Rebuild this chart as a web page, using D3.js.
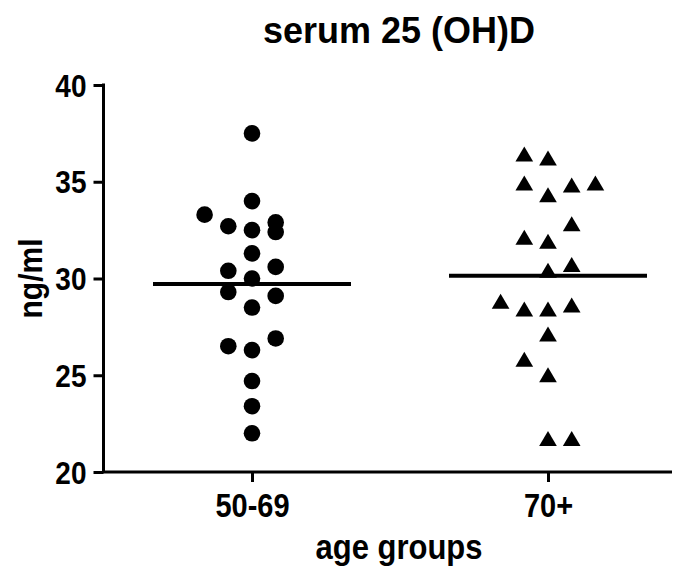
<!DOCTYPE html>
<html>
<head>
<meta charset="utf-8">
<script src="https://cdn.jsdelivr.net/npm/d3@7"></script>
<style>
  html, body { margin: 0; padding: 0; background: #fff; }
  svg text { font-family: "Liberation Sans", Arial, sans-serif; font-weight: bold; fill: #000; }
</style>
</head>
<body>
<svg id="chart" width="687" height="570"></svg>
<script>
// age groups on the x axis
const groups = ["50-69", "70+"];

// serum 25(OH)D values (ng/ml)
const young = [37.5, 34.0, 33.3, 32.7, 32.5, 32.9, 32.4, 31.3, 30.4, 30.6,
               30.0, 29.3, 29.1, 28.5, 26.9, 26.5, 26.3, 24.7, 23.4, 22.0];
// column each point sits in (scatter spread), -2..2
const youngLane = [0, 0, -2, -1, 0, 1, 1, 0, -1, 1,
                   0, -1, 1, 0, 1, -1, 0, 0, 0, 0];

const old = [36.3, 36.1, 34.8, 34.7, 34.8, 34.2, 32.7, 32.0, 31.8, 30.6,
             30.3, 28.7, 28.3, 28.3, 28.5, 27.0, 25.7, 24.9, 21.6, 21.6];
const oldLane = [-1, 0, -1, 1, 2, 0, 1, -1, 0, 1,
                 0, -2, -1, 0, 1, 0, -1, 0, 0, 1];

const yTicks = [20, 25, 30, 35, 40];

const svg = d3.select("#chart");

// plot geometry
const axisLeft = 103.5, axisRight = 672, axisTop = 85, axisBottom = 472;

const y = d3.scaleLinear().domain([20, 40]).range([axisBottom, axisTop]);
const x = d3.scalePoint().domain(groups).range([252, 548]);
const lane = d3.scaleLinear().domain([-1, 1]).range([-23.7, 23.7]);

// text in the picture is a little taller than Arial, so stretch it
function label(sel, tx, ty, size, sy, anchor, rot) {
  return sel.append("text")
    .attr("transform", `translate(${tx},${ty})` + (rot ? ` rotate(${rot})` : "") + ` scale(1,${sy})`)
    .attr("text-anchor", anchor)
    .style("font-size", size + "px");
}

// --- axes ---
const yAxis = d3.axisLeft(y).tickValues(yTicks).tickSize(10).tickSizeOuter(0).tickFormat(d3.format("d"));
const gy = svg.append("g").attr("transform", `translate(${axisLeft},0)`).call(yAxis);
gy.select(".domain").remove();
gy.selectAll(".tick line").attr("stroke", "#000").attr("stroke-width", 3);
gy.selectAll(".tick text").remove();
gy.selectAll(".tick").each(function(d) {
  label(d3.select(this), -17, 11, 28, 1.15, "end").text(d);
});

const xAxis = d3.axisBottom(x).tickSize(10).tickSizeOuter(0);
const gx = svg.append("g").attr("transform", `translate(0,${axisBottom})`).call(xAxis);
gx.select(".domain").remove();
gx.selectAll(".tick line").attr("stroke", "#000").attr("stroke-width", 3);
gx.selectAll(".tick text").remove();
gx.selectAll(".tick").each(function(d) {
  label(d3.select(this), 0, 45, 29, 1.15, "middle").text(d);
});

// axis lines (L shape)
svg.append("path")
  .attr("d", `M${axisLeft},${axisTop - 1.5}V${axisBottom}H${axisRight}`)
  .attr("fill", "none")
  .attr("stroke", "#000")
  .attr("stroke-width", 3);

// --- points ---
const youngPts = young.map((v, i) => ({ v, lane: youngLane[i] }));
const oldPts = old.map((v, i) => ({ v, lane: oldLane[i] }));

svg.append("g").selectAll("circle")
  .data(youngPts)
  .join("circle")
  .attr("cx", d => x(groups[0]) + lane(d.lane))
  .attr("cy", d => y(d.v))
  .attr("r", 8.3)
  .attr("fill", "#000");

const tri = d3.symbol().type(d3.symbolTriangle).size(125);
svg.append("g").selectAll("path")
  .data(oldPts)
  .join("path")
  .attr("d", tri)
  .attr("transform", d => `translate(${x(groups[1]) + lane(d.lane)},${y(d.v)}) scale(1.04,1.02)`)
  .attr("fill", "#000");

// --- mean lines ---
const means = [d3.mean(young), d3.mean(old)];
svg.append("g").selectAll("line")
  .data(means)
  .join("line")
  .attr("x1", (d, i) => x(groups[i]) - 99)
  .attr("x2", (d, i) => x(groups[i]) + 99)
  .attr("y1", d => y(d))
  .attr("y2", d => y(d))
  .attr("stroke", "#000")
  .attr("stroke-width", 4);

// --- titles ---
label(svg, 399, 43, 36, 1.02, "middle").text("serum 25 (OH)D");
label(svg, 399, 559, 31, 1.12, "middle").text("age groups");
label(svg, 42, 278.5, 30, 1.12, "middle", -90).text("ng/ml");
</script>
</body>
</html>
